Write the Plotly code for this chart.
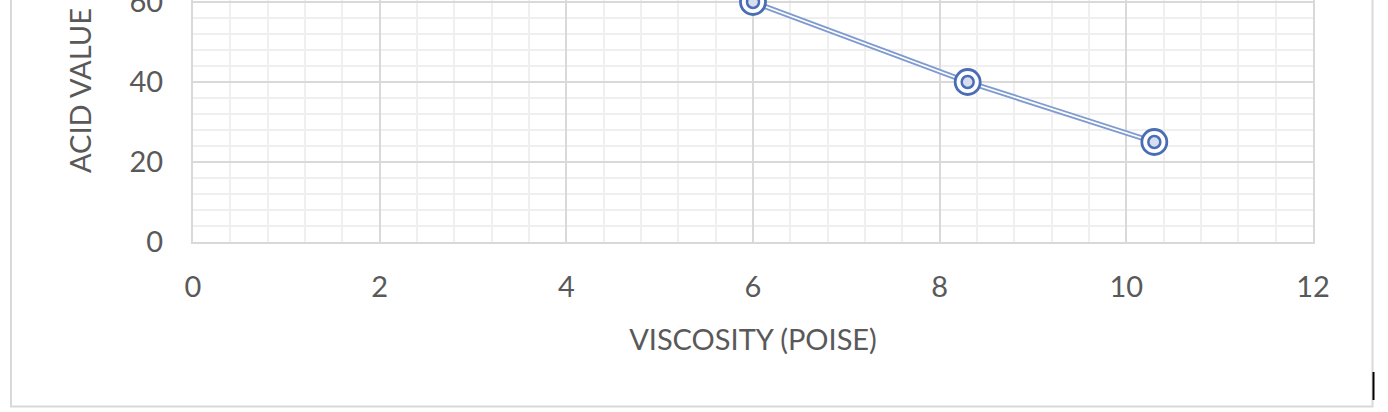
import plotly.graph_objects as go

viscosity = [6, 8.3, 10.3]
acid_value = [60, 40, 25]
x_title = "VISCOSITY (POISE)"
y_title = "ACID VALUE"

W, H = 1388, 412
L, R, T, B = 193, 75, 0, 170
pw, ph = W - L - R, H - T - B

def px(x):
    return (x - L) / pw

def py(y):
    return (H - B - y) / ph

font = dict(family="Lato, 'Open Sans', sans-serif", size=29, color="#595959")

fig = go.Figure()
fig.add_trace(go.Scatter(x=viscosity, y=acid_value, mode="lines",
                         line=dict(color="#7F9BD0", width=5.5), cliponaxis=False,
                         hoverinfo="skip", showlegend=False))
fig.add_trace(go.Scatter(x=viscosity, y=acid_value, mode="lines",
                         line=dict(color="white", width=1.8), cliponaxis=False,
                         hoverinfo="skip", showlegend=False))
fig.add_trace(go.Scatter(x=viscosity, y=acid_value, mode="markers",
                         marker=dict(symbol="circle", size=25, color="white",
                                     line=dict(color="#4A6DB3", width=2.8)),
                         cliponaxis=False, showlegend=False))
fig.add_trace(go.Scatter(x=viscosity, y=acid_value, mode="markers",
                         marker=dict(symbol="circle", size=12, color="#D6DEF0",
                                     line=dict(color="#4A6DB3", width=2.5)),
                         cliponaxis=False, showlegend=False))

fig.update_layout(
    width=W, height=H,
    margin=dict(l=L, r=R, t=T, b=B, pad=0, autoexpand=False),
    paper_bgcolor="white", plot_bgcolor="white",
    font=font,
    shapes=[
        dict(type="rect", xref="paper", yref="paper",
             x0=px(11), x1=px(1372.5), y0=py(406.5), y1=py(-20),
             line=dict(color="#D9D9D9", width=2), layer="below"),
        dict(type="line", xref="paper", yref="paper",
             x0=px(1373.5), x1=px(1373.5), y0=py(372), y1=py(400),
             line=dict(color="black", width=2)),
    ],
    annotations=[
        dict(text=y_title, xref="paper", yref="paper", x=px(80), y=py(91),
             xanchor="center", yanchor="middle", textangle=-90,
             showarrow=False, font=font),
    ],
)
fig.update_xaxes(
    range=[0, 12], dtick=2, tick0=0, automargin=False,
    showgrid=True, gridcolor="#D9D9D9", gridwidth=2,
    showline=True, linecolor="#D9D9D9", linewidth=2,
    zeroline=False, ticks="", ticklabelstandoff=18, ticklabeloverflow="allow",
    minor=dict(dtick=0.4, tick0=0, showgrid=True, gridcolor="#EFEFEF", gridwidth=1.5),
    title=dict(text=x_title, standoff=28, font=font),
    tickfont=font,
)
fig.update_yaxes(
    range=[0, 60.5], dtick=20, tick0=0, automargin=False,
    showgrid=True, gridcolor="#D9D9D9", gridwidth=2,
    showline=True, mirror=True, linecolor="#D9D9D9", linewidth=2,
    zeroline=False, ticks="", ticklabelstandoff=22, ticklabeloverflow="allow",
    minor=dict(dtick=4, tick0=0, showgrid=True, gridcolor="#EFEFEF", gridwidth=1.5),
    tickfont=font,
)

fig.write_html("out.html", config={"displayModeBar": False},
               post_script="document.body.style.margin='0';document.body.style.overflow='hidden';")
